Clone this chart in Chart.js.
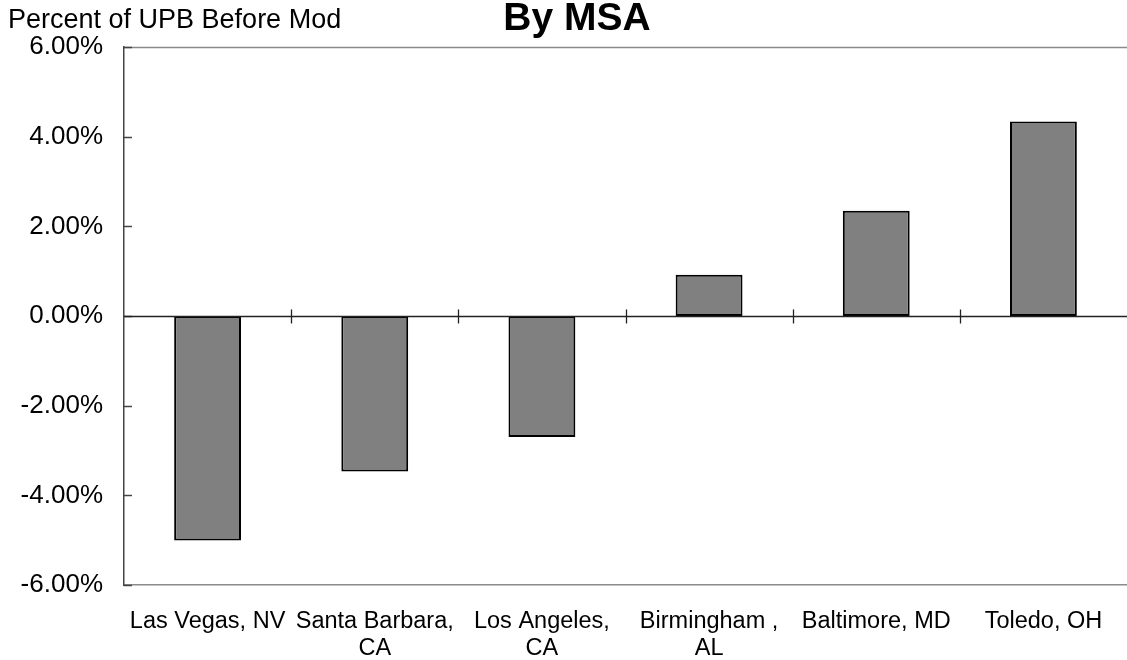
<!DOCTYPE html>
<html>
<head>
<meta charset="utf-8">
<script src="https://cdn.jsdelivr.net/npm/chart.js@4/dist/chart.umd.min.js"></script>
<style>
  html, body { margin: 0; padding: 0; background: #fff; }
  #wrap { width: 1127px; height: 660px; position: relative; }
</style>
</head>
<body>
<div id="wrap"><canvas id="c" width="1127" height="660"></canvas></div>
<script>
// Change in percent of unpaid principal balance, by metro area
const categories = [
  ["Las Vegas, NV"],
  ["Santa Barbara,", "CA"],
  ["Los Angeles,", "CA"],
  ["Birmingham ,", "AL"],
  ["Baltimore, MD"],
  ["Toledo, OH"]
];
const values = [-5.01, -3.47, -2.70, 0.92, 2.35, 4.34];
const yTicks = [-6, -4, -2, 0, 2, 4, 6];

const chartTitle = "By MSA";
const yAxisLabel = "Percent of UPB Before Mod";

const FONT = "'Liberation Sans', Arial, sans-serif";

// Frame lines, inward value ticks, zero line with category ticks, and header texts
const framePlugin = {
  id: 'frame',
  afterDatasetsDraw(chart) {
    const { ctx, chartArea: a, scales: { x, y } } = chart;
    ctx.save();
    // top border
    ctx.strokeStyle = '#8a8a8a';
    ctx.lineWidth = 1.5;
    ctx.beginPath();
    ctx.moveTo(a.left, a.top + 0.5);
    ctx.lineTo(a.right, a.top + 0.5);
    ctx.stroke();
    // inward ticks on the value axis
    ctx.strokeStyle = '#444';
    ctx.lineWidth = 1.5;
    yTicks.forEach(v => {
      const py = Math.round(y.getPixelForValue(v)) + 0.5;
      ctx.beginPath();
      ctx.moveTo(a.left, py);
      ctx.lineTo(a.left + 8, py);
      ctx.stroke();
    });
    // zero line
    const y0 = Math.round(y.getPixelForValue(0)) + 0.5;
    ctx.strokeStyle = '#222';
    ctx.lineWidth = 1.3;
    ctx.beginPath();
    ctx.moveTo(a.left, y0);
    ctx.lineTo(a.right, y0);
    ctx.stroke();
    // category boundary ticks crossing the zero line
    const n = categories.length;
    for (let i = 1; i < n; i++) {
      const px = Math.round((x.getPixelForValue(i - 1) + x.getPixelForValue(i)) / 2) + 0.5;
      ctx.beginPath();
      ctx.moveTo(px, y0 - 7);
      ctx.lineTo(px, y0 + 7);
      ctx.stroke();
    }
    // header texts
    ctx.fillStyle = '#000';
    ctx.textBaseline = 'alphabetic';
    ctx.textAlign = 'left';
    ctx.font = '27px ' + FONT;
    ctx.fillText(yAxisLabel, 8, 28);
    ctx.textAlign = 'center';
    ctx.font = 'bold 39px ' + FONT;
    ctx.fillText(chartTitle, 577, 30);
    ctx.restore();
  }
};

new Chart(document.getElementById('c'), {
  type: 'bar',
  data: {
    labels: categories,
    datasets: [{
      data: values,
      backgroundColor: '#808080',
      borderColor: '#000',
      borderWidth: 2,
      borderSkipped: false,
      barPercentage: 0.4,
      categoryPercentage: 1.0
    }]
  },
  options: {
    responsive: false,
    animation: false,
    devicePixelRatio: 1,
    layout: { padding: { top: 47, right: 0, left: 0, bottom: 0 } },
    plugins: {
      legend: { display: false },
      title: { display: false },
      tooltip: { enabled: false }
    },
    scales: {
      x: {
        offset: true,
        grid: { display: false, drawTicks: false },
        border: { display: true, color: '#8a8a8a', width: 1.5 },
        ticks: {
          color: '#000',
          font: { family: FONT, size: 23.5, lineHeight: 1.15 },
          padding: 23,
          maxRotation: 0,
          autoSkip: false
        },
        afterFit(scale) { scale.height = 75; }
      },
      y: {
        min: -6,
        max: 6,
        afterBuildTicks(scale) { scale.ticks = yTicks.map(v => ({ value: v })); },
        grid: { display: false, drawTicks: false },
        border: { display: true, color: '#444', width: 1.5 },
        ticks: {
          color: '#000',
          font: { family: FONT, size: 26 },
          padding: 21,
          callback: v => v.toFixed(2) + '%'
        },
        afterFit(scale) { scale.width = 124; }
      }
    }
  },
  plugins: [framePlugin]
});
</script>
</body>
</html>
